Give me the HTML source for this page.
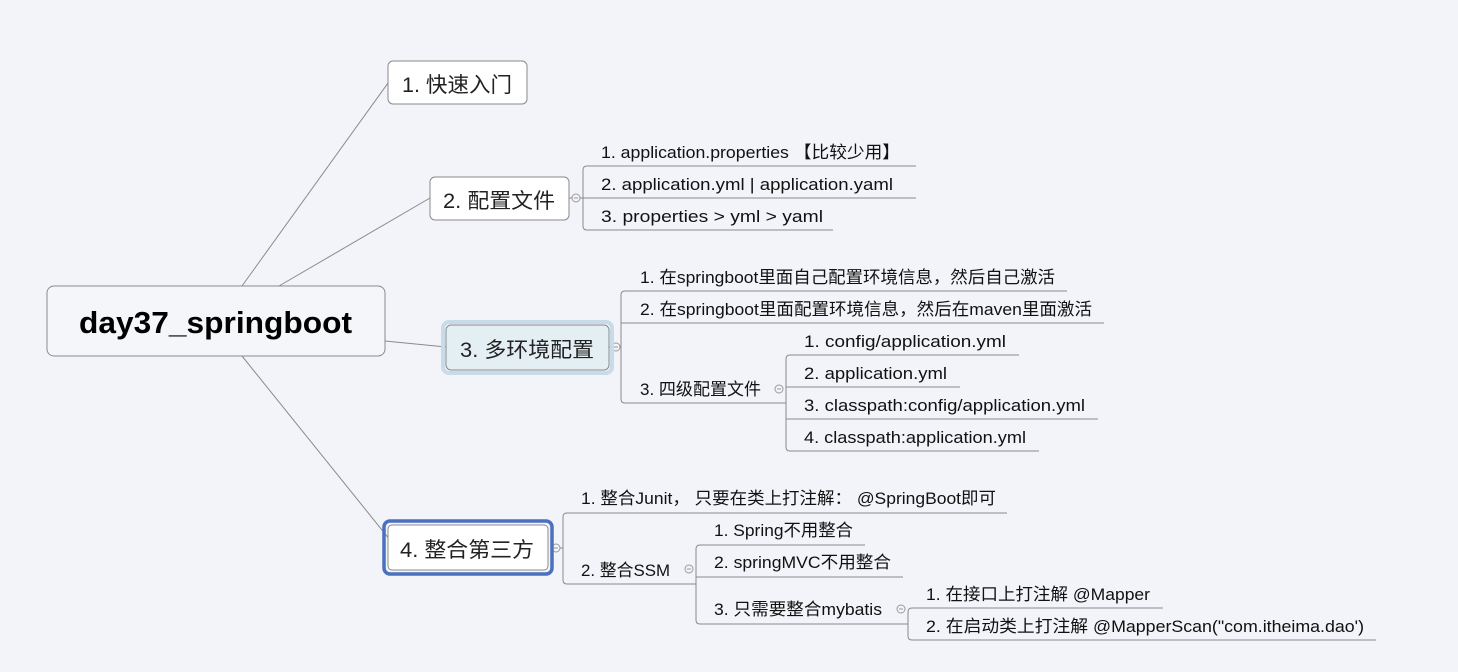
<!DOCTYPE html>
<html><head><meta charset="utf-8"><style>
html,body{margin:0;padding:0;background:#f2f4f9;}
svg{display:block;}
text{font-family:"Liberation Sans","Noto Sans CJK SC",sans-serif;fill:#111;}
.t{font-size:17px;}
.n{font-size:21px;fill:#222;}
</style></head><body>
<svg width="1458" height="672" viewBox="0 0 1458 672" xmlns="http://www.w3.org/2000/svg">
<g stroke="#8a8a8a" stroke-width="1" fill="none">
<line x1="242" y1="286" x2="388" y2="83"/>
<line x1="279" y1="286" x2="430" y2="198"/>
<line x1="385" y1="341" x2="446" y2="347"/>
<line x1="242" y1="356" x2="390" y2="540"/>
<line x1="569" y1="198" x2="583" y2="198"/>
<path d="M916 166 H587 Q583 166 583 170 V226 Q583 230 587 230 H833"/>
<line x1="583" y1="198" x2="916" y2="198"/>
<line x1="609" y1="347" x2="621" y2="347"/>
<path d="M1067 291 H625 Q621 291 621 295 V399 Q621 403 625 403 H786"/>
<line x1="621" y1="323" x2="1104" y2="323"/>
<path d="M1019 355 H790 Q786 355 786 359 V447 Q786 451 790 451 H1039"/>
<line x1="786" y1="387" x2="960" y2="387"/>
<line x1="786" y1="419" x2="1098" y2="419"/>
<line x1="552" y1="548" x2="563" y2="548"/>
<path d="M1007 513 H567 Q563 513 563 517 V580 Q563 584 567 584 H696"/>
<path d="M865 545 H700 Q696 545 696 549 V620 Q696 624 700 624 H908"/>
<line x1="696" y1="577" x2="903" y2="577"/>
<path d="M1163 608 H912 Q908 608 908 612 V636 Q908 640 912 640 H1376"/>
<line x1="900" y1="624" x2="908" y2="624"/>
</g>
<g stroke="#9a9a9a" fill="#f2f4f9" stroke-width="1">
<circle cx="576" cy="198" r="4"/><circle cx="616" cy="347" r="4"/><circle cx="779" cy="389" r="4"/>
<circle cx="556" cy="548" r="4"/><circle cx="689" cy="569" r="4"/><circle cx="901" cy="609" r="4"/>
</g>
<g stroke="#9a9a9a" stroke-width="1">
<line x1="574" y1="198" x2="578" y2="198"/><line x1="614" y1="347" x2="618" y2="347"/><line x1="777" y1="389" x2="781" y2="389"/>
<line x1="554" y1="548" x2="558" y2="548"/><line x1="687" y1="569" x2="691" y2="569"/><line x1="899" y1="609" x2="903" y2="609"/>
</g>
<rect x="47" y="286" width="338" height="70" rx="7" fill="#f4f6fa" stroke="#8a8a8a"/>
<text x="79" y="333" textLength="273" lengthAdjust="spacingAndGlyphs" style="font-size:31px;font-weight:bold;fill:#000">day37_springboot</text>
<rect x="388" y="61" width="139" height="43" rx="5" fill="#fff" stroke="#8a8a8a"/>
<text class="n" x="402" y="92" textLength="110" lengthAdjust="spacingAndGlyphs">1. 快速入门</text>
<rect x="430" y="177" width="139" height="43" rx="5" fill="#fff" stroke="#8a8a8a"/>
<text class="n" x="443" y="208" textLength="112" lengthAdjust="spacingAndGlyphs">2. 配置文件</text>
<rect x="443" y="322" width="169" height="51" rx="6" fill="none" stroke="#c7dbe8" stroke-width="4"/>
<rect x="446" y="325" width="163" height="45" rx="5" fill="#e4eff4" stroke="#8a8a8a"/>
<text class="n" x="460" y="357" textLength="134" lengthAdjust="spacingAndGlyphs">3. 多环境配置</text>
<rect x="384" y="521" width="168" height="53" rx="6" fill="none" stroke="#4a70c0" stroke-width="3.5"/>
<rect x="388" y="525" width="160" height="45" rx="4" fill="#fff" stroke="#8a8a8a"/>
<text class="n" x="400" y="557" textLength="134" lengthAdjust="spacingAndGlyphs">4. 整合第三方</text>
<g lengthAdjust="spacingAndGlyphs">
<text class="t" x="601" y="158" textLength="299" lengthAdjust="spacingAndGlyphs">1. application.properties 【比较少用】</text>
<text class="t" x="601" y="190" textLength="292" lengthAdjust="spacingAndGlyphs">2. application.yml | application.yaml</text>
<text class="t" x="601" y="222" textLength="222" lengthAdjust="spacingAndGlyphs">3. properties &gt;  yml &gt; yaml</text>
<text class="t" x="640" y="283" textLength="415" lengthAdjust="spacingAndGlyphs">1. 在springboot里面自己配置环境信息，然后自己激活</text>
<text class="t" x="640" y="315" textLength="452" lengthAdjust="spacingAndGlyphs">2. 在springboot里面配置环境信息，然后在maven里面激活</text>
<text class="t" x="640" y="395" textLength="121" lengthAdjust="spacingAndGlyphs">3. 四级配置文件</text>
<text class="t" x="804" y="347" textLength="202" lengthAdjust="spacingAndGlyphs">1. config/application.yml</text>
<text class="t" x="804" y="379" textLength="143" lengthAdjust="spacingAndGlyphs">2. application.yml</text>
<text class="t" x="804" y="411" textLength="281" lengthAdjust="spacingAndGlyphs">3. classpath:config/application.yml</text>
<text class="t" x="804" y="443" textLength="222" lengthAdjust="spacingAndGlyphs">4. classpath:application.yml</text>
<text class="t" x="581" y="504" textLength="415" lengthAdjust="spacingAndGlyphs">1. 整合Junit， 只要在类上打注解： @SpringBoot即可</text>
<text class="t" x="581" y="576" textLength="89" lengthAdjust="spacingAndGlyphs">2. 整合SSM</text>
<text class="t" x="714" y="536" textLength="139" lengthAdjust="spacingAndGlyphs">1. Spring不用整合</text>
<text class="t" x="714" y="568" textLength="177" lengthAdjust="spacingAndGlyphs">2. springMVC不用整合</text>
<text class="t" x="714" y="615" textLength="168" lengthAdjust="spacingAndGlyphs">3. 只需要整合mybatis</text>
<text class="t" x="926" y="600" textLength="224" lengthAdjust="spacingAndGlyphs">1. 在接口上打注解 @Mapper</text>
<text class="t" x="926" y="632" textLength="438" lengthAdjust="spacingAndGlyphs">2. 在启动类上打注解 @MapperScan("com.itheima.dao')</text>
</g>
</svg>
</body></html>
